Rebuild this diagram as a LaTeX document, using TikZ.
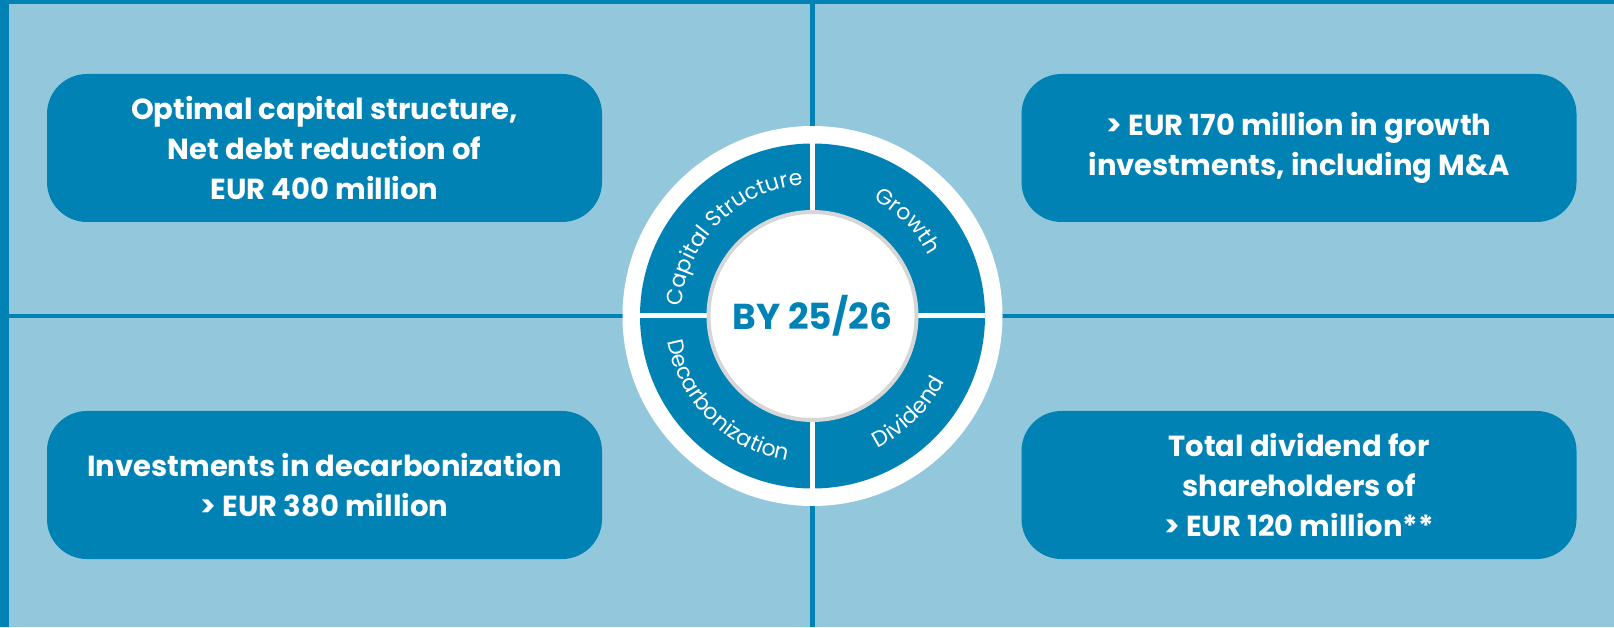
\documentclass[tikz,border=0pt]{standalone}
\usepackage{fontspec}
\setmainfont{Poppins}
\usetikzlibrary{decorations.text}
\definecolor{sea}{HTML}{0082B4}
\definecolor{sky}{HTML}{93C7DC}
\definecolor{rim}{HTML}{D6D6D6}

\def \rout {190}
\def \rring {172.5}
\def \rtop {131}
\def \rbot {147}

\begin{document}
\begin{tikzpicture}[
    x = 1pt, y = 1pt,
    goal/.style = {
      rectangle, rounded corners = 40pt, fill = sea, text = white,
      minimum width = 555pt, minimum height = 148pt, align = center,
      font = \bfseries\fontsize{29}{40}\selectfont
    },
    bar/.style = { fill = sea },
    divider/.style = { draw = white, line width = 5pt },
    arclabel/.style = {
      decorate, decoration = {
        text along path, text align = center, text color = white,
        text = {|\fontsize{22}{22}\selectfont|#1}
      }
    }
  ]
  \useasboundingbox (0, 0) rectangle (1614, 627);
  \fill[sky] (0, 0) rectangle (1614, 627);
  \fill[bar] (0, 623) rectangle (1614, 627);
  \fill[bar] (0, 0) rectangle (9, 627);
  \fill[bar] (810, 0) rectangle (815, 627);
  \fill[bar] (0, 309) rectangle (1614, 313);

  \node[goal] (capital) at (324.5, 479)
    {Optimal capital structure,\\Net debt reduction of\\EUR 400 million};
  \node[goal] (growth) at (1299, 479)
    {\textgreater{} EUR 170 million in growth\\investments, including M\&A};
  \node[goal] (decarb) at (324.5, 142)
    {Investments in decarbonization\\\textgreater{} EUR 380 million};
  \node[goal] (dividend) at (1299, 142)
    {Total dividend for\\shareholders of\\\textgreater{} EUR 120 million**};

  \coordinate (hub) at (812.5, 311);
  \fill[white] (hub) circle[radius = \rout];
  \fill[sea] (hub) circle[radius = \rring];
  \draw[divider] ([xshift = -\rring pt]hub) -- ([xshift = \rring pt]hub);
  \draw[divider] ([yshift = -\rring pt]hub) -- ([yshift = \rring pt]hub);
  \node[circle, fill = white, draw = rim, line width = 4pt, inner sep = 0pt,
    minimum size = 208pt, text = sea,
    font = \bfseries\fontsize{36}{36}\selectfont] (target) at (hub) {BY 25/26};

  \path[arclabel = Capital Structure] ([shift = {(180:\rtop)}]hub)
    arc[start angle = 180, end angle = 90, radius = \rtop];
  \path[arclabel = Growth] ([shift = {(90:\rtop)}]hub)
    arc[start angle = 90, end angle = 0, radius = \rtop];
  \path[arclabel = Decarbonization] ([shift = {(180:\rbot)}]hub)
    arc[start angle = 180, end angle = 270, radius = \rbot];
  \path[arclabel = Dividend] ([shift = {(270:\rbot)}]hub)
    arc[start angle = 270, end angle = 360, radius = \rbot];
\end{tikzpicture}
\end{document}
